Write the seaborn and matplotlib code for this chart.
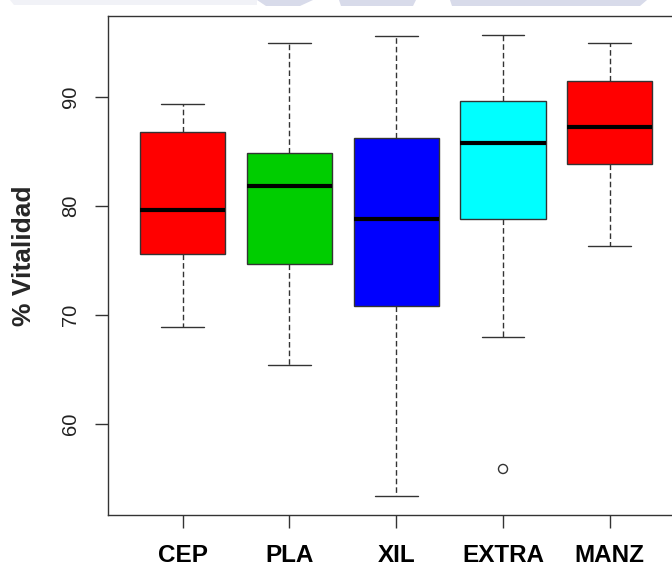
import numpy as np
import pandas as pd
import matplotlib
matplotlib.use("Agg")
import matplotlib.pyplot as plt
from matplotlib.patches import Polygon
import seaborn as sns

# ---- Data: five-number summaries
categories   = ["CEP", "PLA", "XIL", "EXTRA", "MANZ"]
low_whisker  = [68.96, 65.44, 53.39, 68.01, 76.36]
q1           = [75.62, 74.68, 70.85, 78.81, 83.88]
median       = [79.66, 81.86, 78.81, 85.75, 87.22]
q3           = [86.82, 84.86, 86.27, 89.66, 91.50]
high_whisker = [89.39, 94.98, 95.62, 95.72, 94.98]
outlier_cat  = ["EXTRA"]
outlier_val  = [55.9]
box_colors   = ["#FF0000", "#00CD00", "#0000FF", "#00FFFF", "#FF0000"]
y_ticks      = [60, 70, 80, 90]

rows = []
for i, cat in enumerate(categories):
    for v in (low_whisker[i], q1[i], median[i], q3[i], high_whisker[i]):
        rows.append({"grupo": cat, "vitalidad": v})
df = pd.DataFrame(rows)

sns.set_theme(style="ticks")
plt.rcParams["font.family"] = ["Liberation Sans", "DejaVu Sans"]

W, H = 672, 566
fig = plt.figure(figsize=(W / 100, H / 100), dpi=100)
ax = fig.add_axes([108 / W, (H - 515) / H, (684.5 - 108) / W, (515 - 16) / H])

line_col = "#333333"
sns.boxplot(
    data=df, x="grupo", y="vitalidad", hue="grupo",
    order=categories, hue_order=categories,
    palette=dict(zip(categories, box_colors)),
    saturation=1, width=0.8, whis=1.5,
    linecolor=line_col, linewidth=1.0,
    whiskerprops=dict(linestyle=(0, (4, 2.2))),
    medianprops=dict(color="black", linewidth=3),
    showfliers=False, legend=False, ax=ax,
)

# outlier point(s), drawn as open circles like R
n_before = len(ax.collections)
sns.stripplot(x=outlier_cat, y=outlier_val, order=categories,
              jitter=False, size=6.5, marker="o", ax=ax)
for pts in ax.collections[n_before:]:
    pts.set_facecolor("none")
    pts.set_edgecolor(line_col)
    pts.set_linewidth(1)

ax.set_xlim(-0.7, 4.7)
ax.set_ylim(51.68, 97.43)
ax.set_yticks(y_ticks)
ax.set_xlabel("")
ax.set_ylabel("% Vitalidad", fontsize=19, fontweight="bold")
ax.yaxis.set_label_coords(-0.125, 0.519)

for s in ax.spines.values():
    s.set_visible(True)
    s.set_color(line_col)
    s.set_linewidth(1)

ax.tick_params(axis="y", length=9.4, width=1, color=line_col,
               labelsize=14.5, labelcolor="#222222", pad=11, labelrotation=90)
for lab in ax.get_yticklabels():
    lab.set_va("center")
ax.tick_params(axis="x", length=9.4, width=1, color=line_col, pad=11.5)
ax.set_xticks(range(len(categories)))
ax.set_xticklabels(categories, fontsize=17.5, fontweight="bold", color="black")

# faint watermark shapes along the top edge
def px_poly(pts_px, color):
    xy = [(x / W, 1 - y / H) for x, y in pts_px]
    fig.add_artist(Polygon(xy, closed=True, transform=fig.transFigure,
                           facecolor=color, edgecolor="none", zorder=0))

px_poly([(10, 0), (257, 0), (257, 5), (14, 5)], "#f1f2f7")
px_poly([(257, 0), (313, 0), (300, 6), (266, 6)], "#d8dbea")
px_poly([(339, 0), (416, 0), (413, 6), (341, 6)], "#d8dbea")
px_poly([(450, 0), (647, 0), (640, 6), (452, 6)], "#d8dbea")

fig.savefig("out.png", dpi=100)
